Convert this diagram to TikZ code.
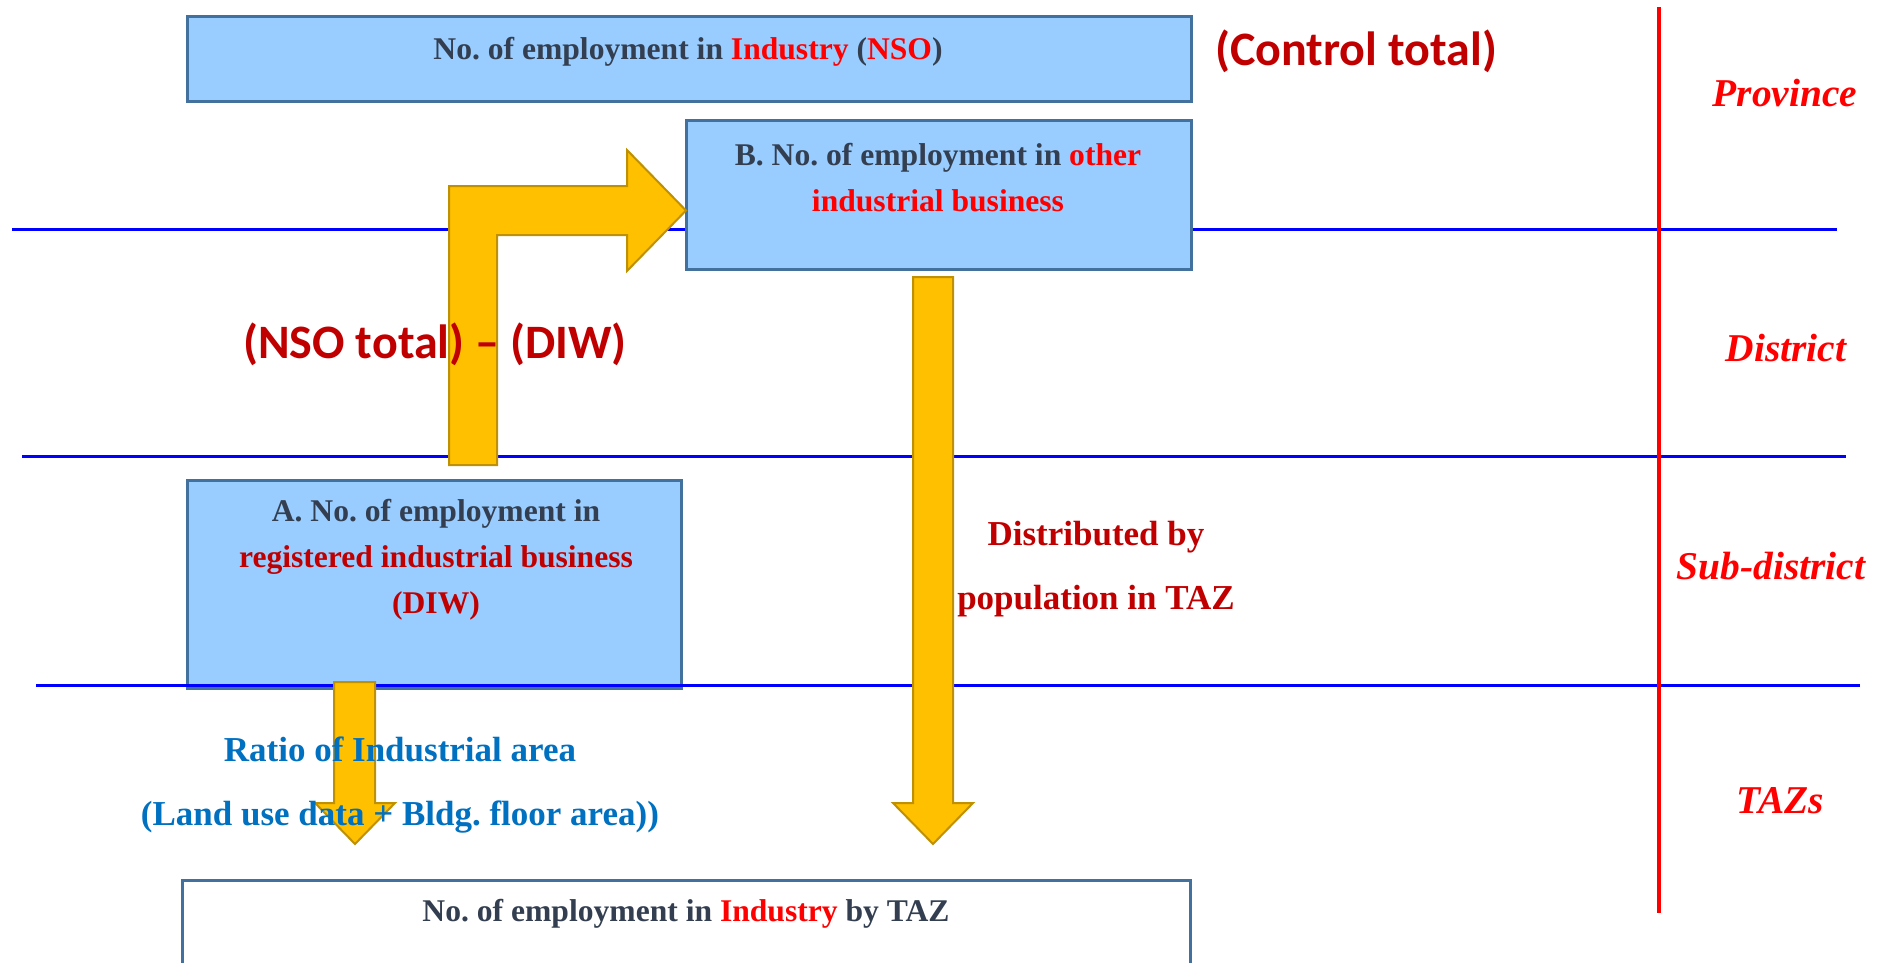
\documentclass[tikz,border=0pt]{standalone}
\usepackage{fontspec}
\setmainfont{Liberation Serif}
\newfontfamily\calibri{Carlito}
\usetikzlibrary{positioning}
\definecolor{boxfill}{HTML}{99CCFF}
\definecolor{boxline}{HTML}{41719C}
\definecolor{ink}{HTML}{333F50}
\definecolor{darkred}{HTML}{C00000}
\definecolor{linkblue}{HTML}{0070C0}
\definecolor{amber}{HTML}{FFC000}
\definecolor{amberline}{HTML}{BF9000}
\frenchspacing
\tikzset{panel/.style={draw=boxline,line width=1.5pt,fill=boxfill,inner sep=0pt}, paneltext/.style={font=\bfseries\fontsize{15.8}{23}\selectfont,text=ink,align=center,inner sep=0pt}, note/.style={font=\bfseries\fontsize{17.5}{32}\selectfont,align=center,inner sep=0pt}, bigred/.style={font=\calibri\bfseries\fontsize{24}{29}\selectfont,text=darkred,inner sep=0pt}, level/.style={font=\bfseries\itshape\fontsize{19.7}{24}\selectfont,text=red,inner sep=0pt}, tier/.style={draw=blue,line width=1.5pt}, blockarrow/.style={fill=amber,draw=amberline,line width=1pt,line join=miter}}

\begin{document}
\begin{tikzpicture}[x=0.5pt,y=-0.5pt]
\clip (0,0) rectangle (1880,963);
% boxes under the level lines
\node[panel,minimum width=494*0.5pt,minimum height=208*0.5pt] (diw) at (434,584) {};
\node[panel,fill=white,minimum width=1008*0.5pt,minimum height=120*0.5pt] (taz) at (686,940) {};
% level lines
\draw[tier] (12,229) -- (1837,229);
\draw[tier] (22,456) -- (1846,456);
\draw[tier] (36,685) -- (1860,685);
\draw[red,line width=2pt] (1659,7) -- (1659,913);
\node[panel,minimum width=1004*0.5pt,minimum height=85*0.5pt] (nso) at (689,59.5) {};
\node[panel,minimum width=505*0.5pt,minimum height=148*0.5pt] (other) at (938.5,195) {};
% block arrows
\draw[blockarrow] (449,465) -- (449,186) -- (627,186) -- (627,150) -- (686,210.5) -- (627,271) -- (627,235) -- (497,235) -- (497,465) -- cycle;
\draw[blockarrow] (913,277) -- (953,277) -- (953,803) -- (973,803) -- (933,844) -- (893,803) -- (913,803) -- cycle;
\draw[blockarrow] (334,682) -- (375,682) -- (375,803) -- (395,803) -- (355,844) -- (315,803) -- (334,803) -- cycle;
% texts
\node[paneltext] (nsotext) at (688,52) {No. of employment in \textcolor{red}{Industry} (\textcolor{red}{NSO})};
\node[paneltext] (othertext) at (938,178) {B. No. of employment in \textcolor{red}{other}\\\textcolor{red}{industrial business}};
\node[paneltext,text=darkred] (diwtext) at (436,560) {\textcolor{ink}{A. No. of employment in}\\registered industrial business\\(DIW)};
\node[paneltext] (taztext) at (686,914) {No. of employment in \textcolor{red}{Industry} by TAZ};
\node[bigred] (control) at (1356,51) {(Control total)};
\node[bigred] (minus) at (435,344) {(NSO total) – (DIW)};
\node[note,text=darkred] (bypop) at (1096,569) {Distributed by\\population in TAZ};
\node[note,text=linkblue] (ratio) at (400,785) {Ratio of Industrial area\\(Land use data + Bldg. floor area))};
\node[level] (prov) at (1785,93) {Province};
\node[level] (dist) at (1786,348) {District};
\node[level] (subd) at (1771,566) {Sub-district};
\node[level] (tazs) at (1780,801) {TAZs};
\end{tikzpicture}
\end{document}
